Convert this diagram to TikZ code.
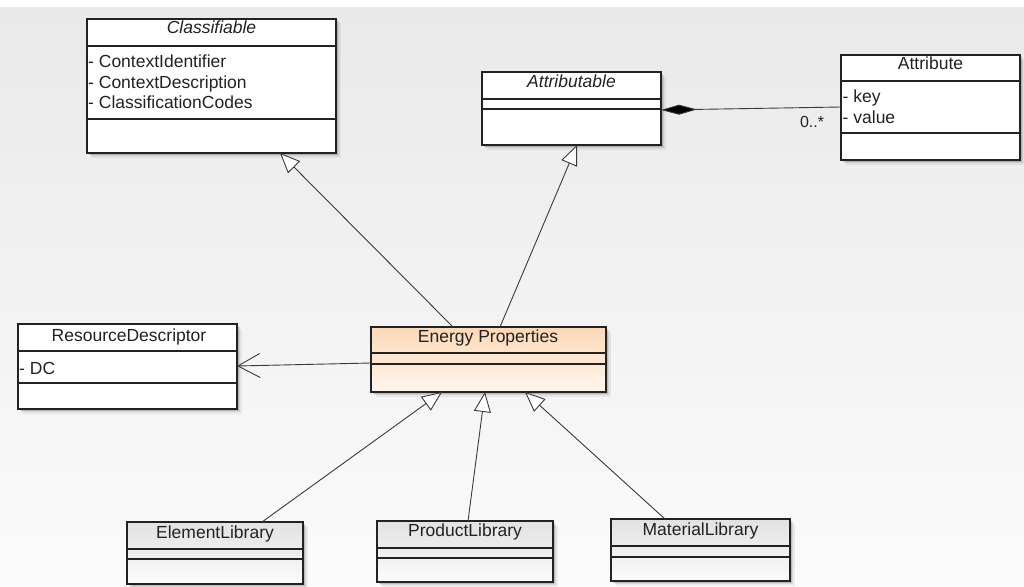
\documentclass[tikz,border=0pt]{standalone}
\usepackage{fontspec}
\setmainfont{Liberation Sans}
\usetikzlibrary{arrows.meta,shadows}

\definecolor{ink}{HTML}{222222}
\definecolor{wire}{HTML}{3A3A3A}
\definecolor{bgtop}{HTML}{E9E9E9}
\definecolor{bgbot}{HTML}{FBFBFB}
\definecolor{peachtop}{HTML}{FCD8B6}
\definecolor{peachbot}{HTML}{FFF6EE}
\definecolor{libtop}{HTML}{E2E2E2}
\definecolor{libbot}{HTML}{FBFBFB}

\newcommand\umlfont{\fontsize{17.5}{20}\selectfont}

\begin{document}
\begin{tikzpicture}[x=1pt,y=-1pt,
  soft/.style={
    general shadow={shadow xshift=4.5pt,shadow yshift=-4.5pt,fill=black,opacity=.06},
    general shadow={shadow xshift=3pt,shadow yshift=-3pt,fill=black,opacity=.09},
    general shadow={shadow xshift=1.5pt,shadow yshift=-1.5pt,fill=black,opacity=.12}},
  classbox/.style={rectangle,draw=ink,line width=1.3pt,fill=white,inner sep=0pt,
    outer sep=0pt,anchor=north west,soft},
  libbox/.style={classbox,top color=libtop,bottom color=libbot},
  hotbox/.style={classbox,top color=peachtop,bottom color=peachbot},
  sep/.style={draw=ink,line width=1.1pt},
  head/.style={anchor=base,inner sep=0pt,text=ink,font=\umlfont},
  attr/.style={anchor=base west,inner sep=0pt,text=ink,font=\umlfont},
  gen/.style={draw=wire,line width=0.9pt,
    -{Triangle[length=20pt,width=17pt,fill=white,line width=0.9pt]}},
  dep/.style={draw=wire,line width=0.9pt,-{Straight Barb[length=22pt,width=24pt,line width=0.9pt]}},
  comp/.style={draw=wire,line width=0.9pt,{Diamond[length=36pt,width=10pt,fill=black]}-}
]
\useasboundingbox (0,0) rectangle (1024,586);
\clip (0,0) rectangle (1024,586);

% backdrop
\fill[white] (0,0) rectangle (1024,586);
\shade[top color=bgtop,bottom color=bgbot] (0,8) rectangle (1024,586);

% Classifiable
\node[classbox,minimum width=249pt,minimum height=134pt] (cl) at (87,19) {};
\draw[sep] (cl.west |- 0,46) -- (cl.east |- 0,46);
\draw[sep] (cl.west |- 0,119) -- (cl.east |- 0,119);
\node[head] (cl-name) at (211.5,33.5) {\itshape Classifiable};
\node[attr] (cl-a1) at (88,67) {- ContextIdentifier};
\node[attr] (cl-a2) at (88,88) {- ContextDescription};
\node[attr] (cl-a3) at (88,108) {- ClassificationCodes};

% Attributable
\node[classbox,minimum width=179pt,minimum height=73pt] (ab) at (482,72) {};
\draw[sep] (ab.west |- 0,99) -- (ab.east |- 0,99);
\draw[sep] (ab.west |- 0,109) -- (ab.east |- 0,109);
\node[head] (ab-name) at (571.5,87) {\itshape Attributable};

% Attribute
\node[classbox,minimum width=179pt,minimum height=105pt] (at) at (841,55) {};
\draw[sep] (at.west |- 0,81) -- (at.east |- 0,81);
\draw[sep] (at.west |- 0,133) -- (at.east |- 0,133);
\node[head] (at-name) at (930.5,70) {Attribute};
\node[attr] (at-a1) at (842.5,102) {- key};
\node[attr] (at-a2) at (842.5,123) {- value};

% ResourceDescriptor
\node[classbox,minimum width=219pt,minimum height=85pt] (rd) at (18,324) {};
\draw[sep] (rd.west |- 0,351) -- (rd.east |- 0,351);
\draw[sep] (rd.west |- 0,383) -- (rd.east |- 0,383);
\node[head] (rd-name) at (129,341) {ResourceDescriptor};
\node[attr] (rd-a1) at (19,374) {- DC};

% Energy Properties
\node[hotbox,minimum width=235pt,minimum height=65pt] (ep) at (371,327) {};
\draw[sep] (ep.west |- 0,353) -- (ep.east |- 0,353);
\draw[sep] (ep.west |- 0,364) -- (ep.east |- 0,364);
\node[head] (ep-name) at (488,342) {Energy Properties};

% Libraries
\node[libbox,minimum width=176pt,minimum height=62pt] (el) at (127,522) {};
\draw[sep] (el.west |- 0,549) -- (el.east |- 0,549);
\draw[sep] (el.west |- 0,559) -- (el.east |- 0,559);
\node[head] (el-name) at (215,538) {ElementLibrary};

\node[libbox,minimum width=176pt,minimum height=61pt] (pl) at (377,521) {};
\draw[sep] (pl.west |- 0,548) -- (pl.east |- 0,548);
\draw[sep] (pl.west |- 0,558) -- (pl.east |- 0,558);
\node[head] (pl-name) at (465,536) {ProductLibrary};

\node[libbox,minimum width=179pt,minimum height=62pt] (ml) at (611,519) {};
\draw[sep] (ml.west |- 0,546) -- (ml.east |- 0,546);
\draw[sep] (ml.west |- 0,557) -- (ml.east |- 0,557);
\node[head] (ml-name) at (700.5,535.5) {MaterialLibrary};

% generalisations
\draw[gen] ([xshift=82pt]ep.north west) -- ([xshift=193pt]cl.south west);
\draw[gen] ([xshift=129pt]ep.north west) -- ([xshift=95pt]ab.south west);
\draw[gen] ([xshift=135pt]el.north west) -- ([xshift=71pt]ep.south west);
\draw[gen] ([xshift=91pt]pl.north west) -- ([xshift=114pt]ep.south west);
\draw[gen] ([xshift=54pt]ml.north west) -- ([xshift=154pt]ep.south west);

% dependency
\draw[dep] ([yshift=-36pt]ep.north west) -- ([yshift=-42pt]rd.north east);

% composition
\draw[comp] ([yshift=-38pt]ab.north east) -- ([yshift=-52pt]at.north west);
\node[head,font=\fontsize{16}{19}\selectfont] (mult) at (812,127) {0..*};
\end{tikzpicture}
\end{document}
